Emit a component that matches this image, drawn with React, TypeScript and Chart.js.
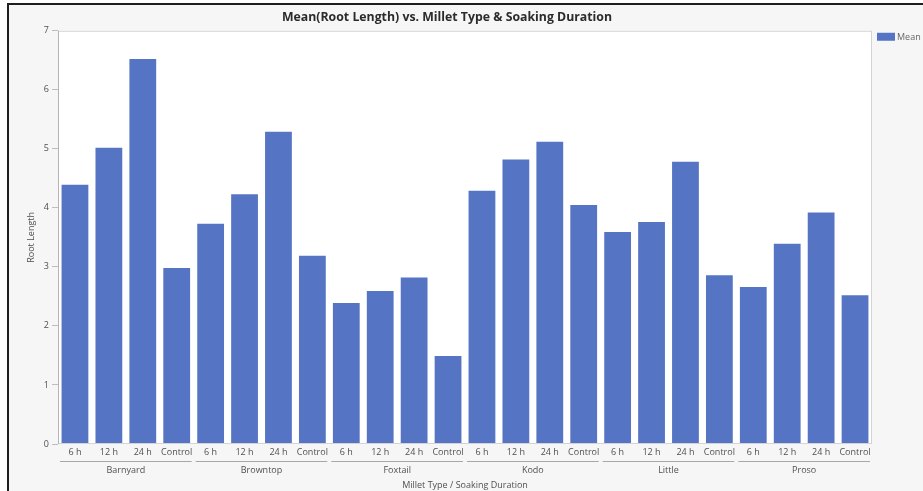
import React, { useEffect, useRef } from 'react';
import { Chart, registerables } from 'chart.js';

Chart.register(...registerables);

const groups = ['Barnyard', 'Browntop', 'Foxtail', 'Kodo', 'Little', 'Proso'];
const durations = ['6 h', '12 h', '24 h', 'Control'];
const barnyard = [4.39, 5.02, 6.52, 2.98];
const browntop = [3.73, 4.23, 5.29, 3.19];
const foxtail = [2.39, 2.59, 2.82, 1.49];
const kodo = [4.29, 4.82, 5.12, 4.05];
const little = [3.59, 3.76, 4.78, 2.86];
const proso = [2.66, 3.39, 3.92, 2.52];
const yMin = 0;
const yMax = 7;
const yStep = 1;

const titleText = 'Mean(Root Length) vs. Millet Type & Soaking Duration';
const yTitle = 'Root Length';
const xTitle = 'Millet Type / Soaking Duration';
const legendLabel = 'Mean';

const FONT = "'Open Sans', 'Noto Sans', sans-serif";
const BAR = '#5575c4';

const subLabels = groups.flatMap(() => durations);
const values = [...barnyard, ...browntop, ...foxtail, ...kodo, ...little, ...proso];

const decorPlugin = {
  id: 'decor',
  beforeDraw(chart: any) {
    const { ctx, chartArea: a } = chart;
    ctx.save();
    ctx.fillStyle = '#ffffff';
    ctx.fillRect(a.left, a.top, a.right - a.left, a.bottom - a.top);
    ctx.restore();
  },
  afterDraw(chart: any) {
    const { ctx, chartArea: a } = chart;
    const xs = chart.scales.x;
    ctx.save();
    ctx.strokeStyle = '#d4d4d4';
    ctx.lineWidth = 1;
    ctx.strokeRect(a.left + 0.5, a.top + 0.5, a.right - a.left - 1, a.bottom - a.top - 1);
    ctx.strokeStyle = '#b5b5b5';
    ctx.beginPath();
    ctx.moveTo(a.left + 0.5, a.top);
    ctx.lineTo(a.left + 0.5, a.bottom);
    ctx.stroke();
    // group separators
    const half = (xs.getPixelForValue(1) - xs.getPixelForValue(0)) / 2;
    const yLine = xs.bottom + 4.5;
    ctx.strokeStyle = '#a8a8a8';
    groups.forEach((_, g) => {
      const x0 = xs.getPixelForValue(g * durations.length) - half + 2;
      const x1 = xs.getPixelForValue(g * durations.length + durations.length - 1) + half - 2;
      ctx.beginPath();
      ctx.moveTo(x0, yLine);
      ctx.lineTo(x1, yLine);
      ctx.stroke();
    });
    // legend
    const lx = a.right + 5;
    const ly = a.top + 2;
    ctx.fillStyle = BAR;
    ctx.fillRect(lx, ly, 18, 8);
    ctx.fillStyle = '#666666';
    ctx.font = `9px ${FONT}`;
    ctx.textBaseline = 'middle';
    ctx.textAlign = 'left';
    ctx.fillText(legendLabel, lx + 20, ly + 4.5);
    ctx.restore();
  },
};

export default function App() {
  const ref = useRef<HTMLCanvasElement | null>(null);

  useEffect(() => {
    document.body.style.margin = '0';
    if (!ref.current) return;
    const chart = new Chart(ref.current, {
      type: 'bar',
      data: {
        labels: subLabels,
        datasets: [
          {
            label: legendLabel,
            data: values,
            backgroundColor: BAR,
            borderWidth: 0,
            categoryPercentage: 1,
            barPercentage: 0.79,
            xAxisID: 'x',
            yAxisID: 'y',
          },
        ],
      },
      options: {
        responsive: false,
        animation: false,
        devicePixelRatio: 1,
        layout: { padding: { left: 22, right: 51, top: 5, bottom: 0 } },
        plugins: {
          legend: { display: false },
          tooltip: { enabled: false },
          title: {
            display: true,
            text: titleText,
            color: '#2b2b2b',
            font: { family: FONT, size: 12.3, weight: 'bold' },
            padding: { top: 5, bottom: 6 },
          },
        },
        scales: {
          x: {
            type: 'category',
            position: 'bottom',
            weight: 0,
            offset: true,
            grid: { display: false, drawTicks: false },
            border: { display: false },
            ticks: {
              color: '#505050',
              font: { family: FONT, size: 9 },
              padding: 3,
              maxRotation: 0,
              autoSkip: false,
            },
            afterFit: (s: any) => {
              s.height = 13;
            },
          },
          x2: {
            type: 'category',
            position: 'bottom',
            weight: 1,
            labels: groups,
            offset: true,
            grid: { display: false, drawTicks: false },
            border: { display: false },
            ticks: {
              color: '#505050',
              font: { family: FONT, size: 9 },
              padding: 8,
              maxRotation: 0,
              autoSkip: false,
            },
            title: {
              display: true,
              text: xTitle,
              color: '#505050',
              font: { family: FONT, size: 9 },
              padding: { top: 0, bottom: 0 },
            },
            afterFit: (s: any) => {
              s.height = 34;
            },
          },
          y: {
            type: 'linear',
            min: yMin,
            max: yMax,
            ticks: {
              stepSize: yStep,
              color: '#505050',
              font: { family: FONT, size: 9 },
              padding: 3,
            },
            grid: {
              display: true,
              drawOnChartArea: false,
              drawTicks: true,
              tickLength: 6,
              color: '#bdbdbd',
            },
            border: { display: false },
            title: {
              display: true,
              text: yTitle,
              color: '#505050',
              font: { family: FONT, size: 9 },
              padding: { top: 4, bottom: 0 },
            },
            afterFit: (s: any) => {
              s.width = 36;
            },
          },
        },
      },
      plugins: [decorPlugin],
    });
    return () => chart.destroy();
  }, []);

  return (
    <div style={{ position: 'relative', width: 923, height: 491, background: '#ffffff', overflow: 'hidden' }}>
      <div
        style={{
          position: 'absolute',
          left: 7,
          top: 3,
          width: 916,
          height: 488,
          boxSizing: 'border-box',
          borderLeft: '2px solid #1e1e1e',
          borderTop: '2px solid #1e1e1e',
          background: '#f6f6f6',
        }}
      />
      <canvas ref={ref} width={923} height={491} style={{ position: 'absolute', left: 0, top: 0 }} />
    </div>
  );
}
